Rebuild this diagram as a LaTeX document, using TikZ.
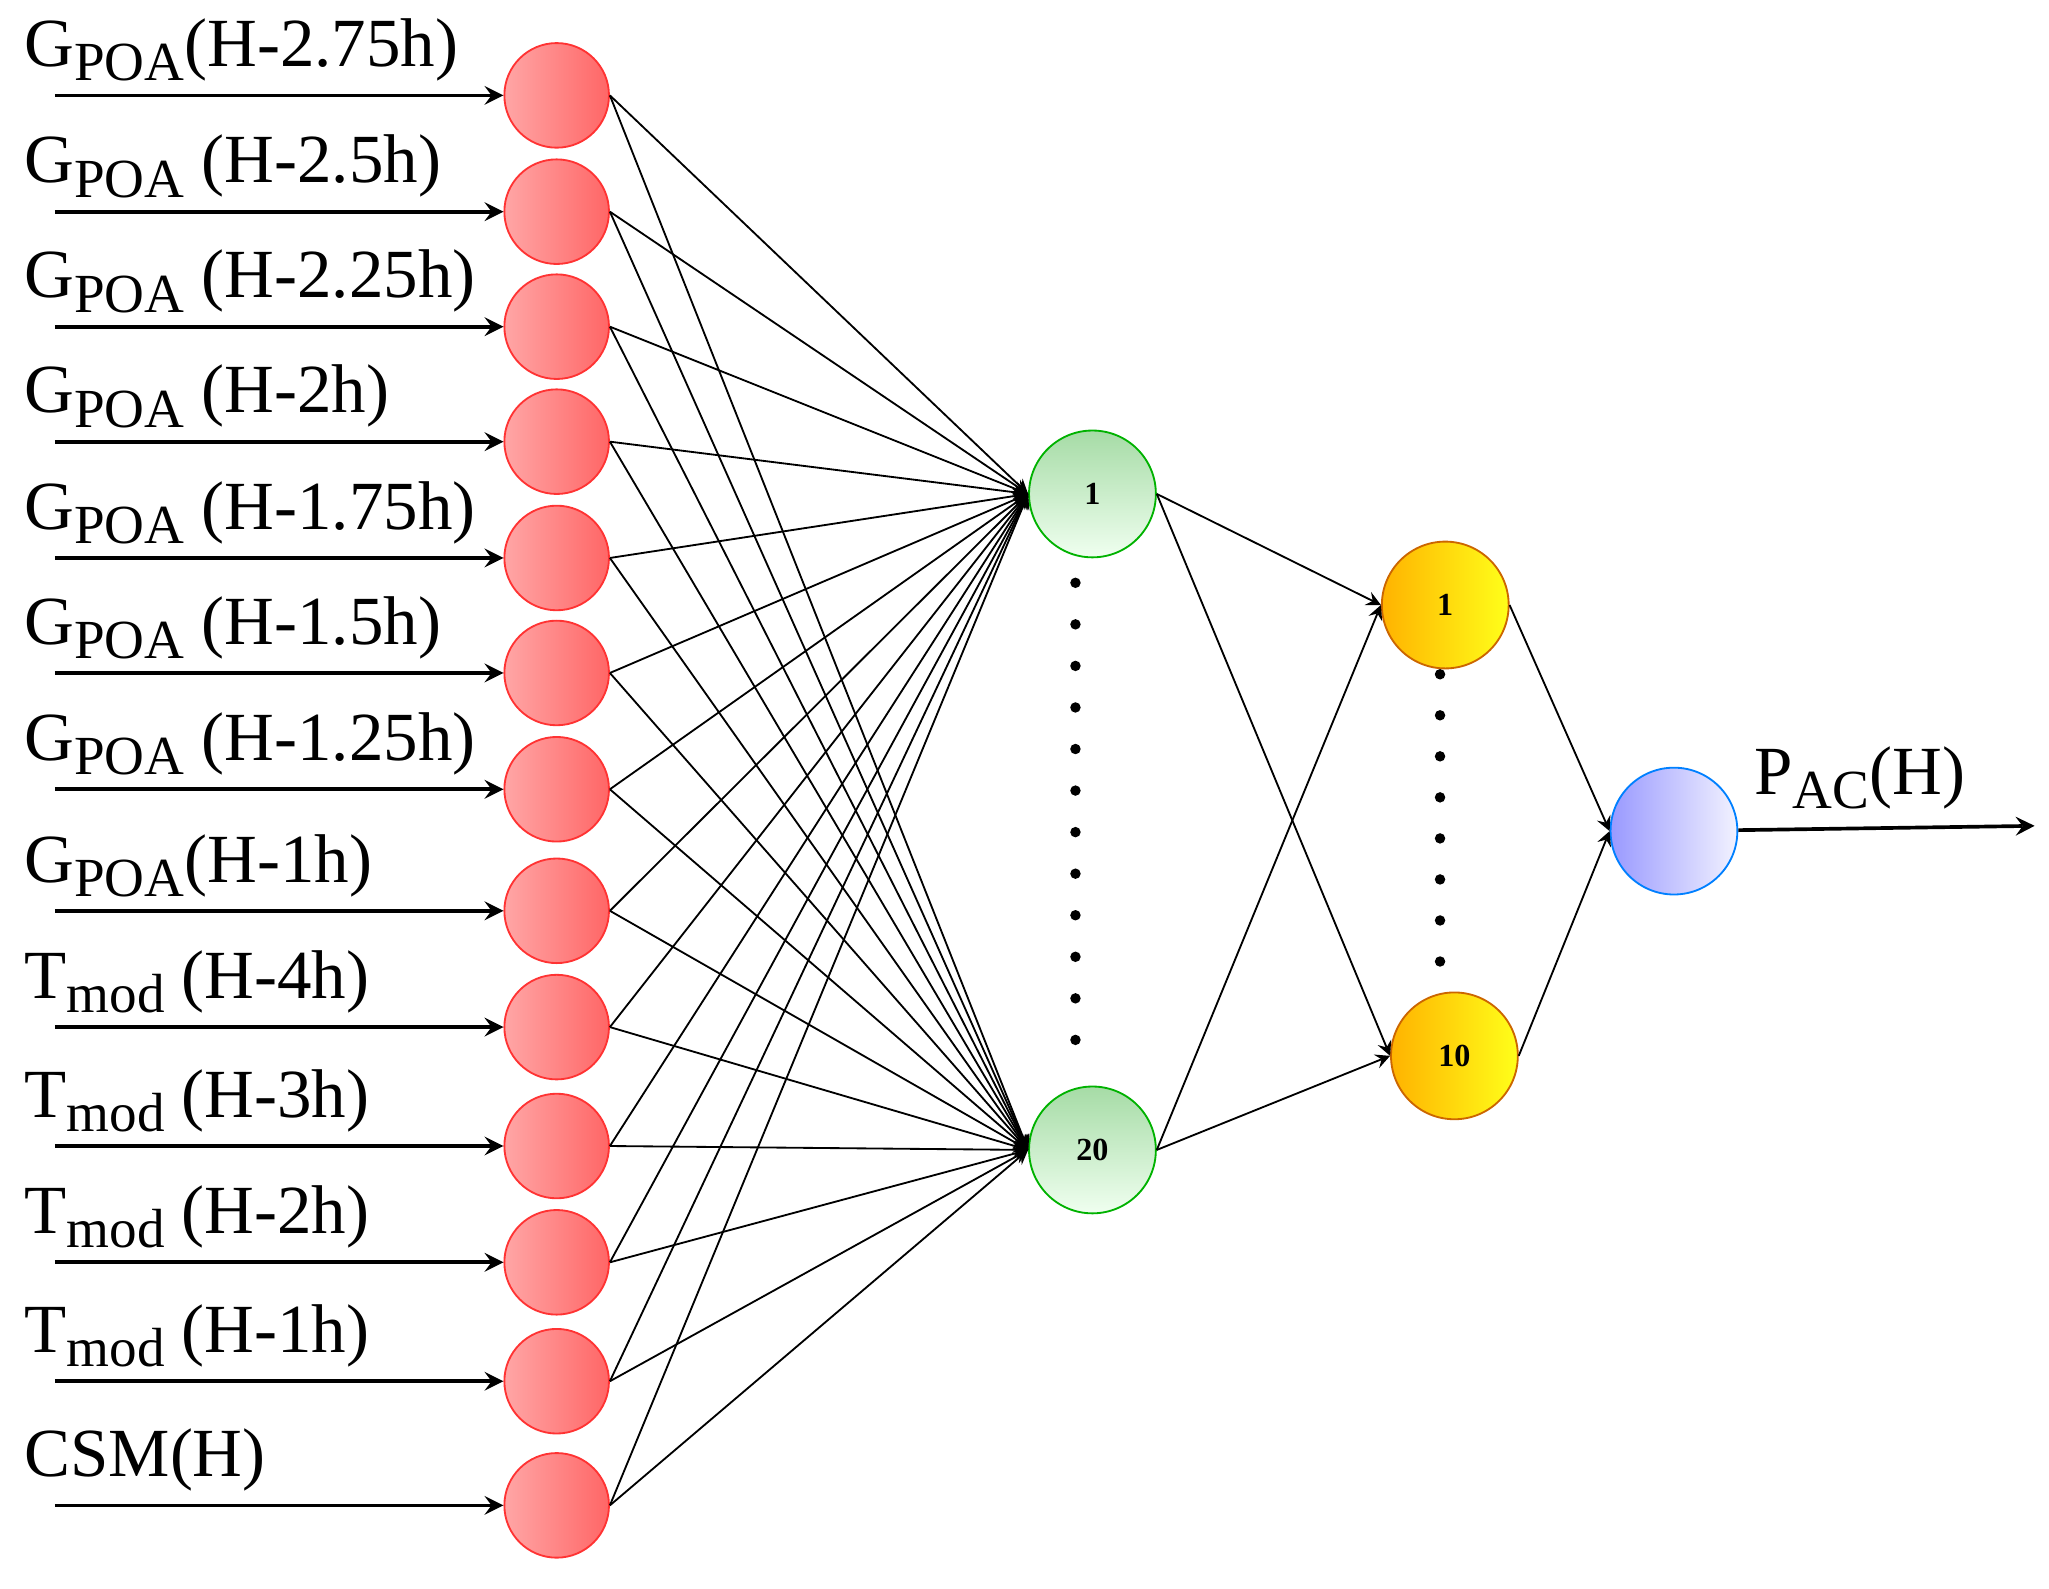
\documentclass[tikz,border=0pt]{standalone}
\usepackage{fontspec}
\setmainfont{Liberation Serif}
\usetikzlibrary{arrows}
\begin{document}
\begin{tikzpicture}[x=0.01cm,y=-0.01cm,>=stealth,
    inp/.style={circle,draw=red!80,minimum size=0.8cm,inner sep=0pt,left color=red!35,right color=red!60},
    hid/.style={circle,draw=green!70!black,minimum size=0.97cm,inner sep=0pt,top color=green!60!black!35,bottom color=green!6,font=\scriptsize\bfseries},
    sec/.style={circle,draw=orange!80!black,minimum size=0.97cm,inner sep=0pt,left color=orange!60!yellow,right color=yellow!90,font=\scriptsize\bfseries},
    outn/.style={circle,draw=blue!50!cyan,minimum size=0.97cm,inner sep=0pt,left color=blue!40!white,right color=blue!5},
    lbl/.style={anchor=base west,inner sep=0pt,font=\fontsize{15}{17}\selectfont}]
  \newcommand{\sbx}[1]{\raisebox{-0.45ex}{\fontsize{12}{14}\selectfont #1}}
  \useasboundingbox[fill=white] (0,0) rectangle (1568,1216);
  % input layer
  \foreach \i/\y/\t in {1/73/G\sbx{POA}(H-2.75h),2/162/G\sbx{POA} (H-2.5h),
      3/250/G\sbx{POA} (H-2.25h),4/338/G\sbx{POA} (H-2h),
      5/427/G\sbx{POA} (H-1.75h),6/515/G\sbx{POA} (H-1.5h),
      7/604/G\sbx{POA} (H-1.25h),8/697/G\sbx{POA}(H-1h),
      9/786/T\sbx{mod} (H-4h),10/877/T\sbx{mod} (H-3h),
      11/966/T\sbx{mod} (H-2h),12/1057/T\sbx{mod} (H-1h),13/1152/CSM(H)} {
    \node[inp] (in\i) at (426,\y) {};
    \coordinate (src\i) at (42,\y);
    \draw[->,thick] (src\i) -- (in\i);
    \node[lbl] (lab\i) at (18,\y-22) {\t};
  }
  % hidden layers
  \node[hid] (h1) at (836,378) {1};
  \node[hid] (h20) at (836,880) {20};
  \node[sec] (s1) at (1106,463) {1};
  \node[sec] (s10) at (1113,808) {10};
  \node[outn] (o) at (1281,636) {};
  \coordinate (end) at (1557,632);
  \node[lbl] (lout) at (1342,608) {P\sbx{AC}(H)};
  \foreach \i in {1,...,13} {
    \draw[->] (in\i.east) -- (h1.west);
    \draw[->] (in\i.east) -- (h20.west);
  }
  \foreach \a in {h1,h20}
    \foreach \b in {s1,s10}
      \draw[->] (\a.east) -- (\b.west);
  \draw[->] (s1.east) -- (o.west);
  \draw[->] (s10.east) -- (o.west);
  \draw[->,thick] (o) -- (end);
  % dots
  \foreach \k in {0,...,11}
    \fill (823,446+\k*31.8) circle (4);
  \foreach \k in {0,...,7}
    \fill (1102,516+\k*31.4) circle (4);
\end{tikzpicture}
\end{document}
